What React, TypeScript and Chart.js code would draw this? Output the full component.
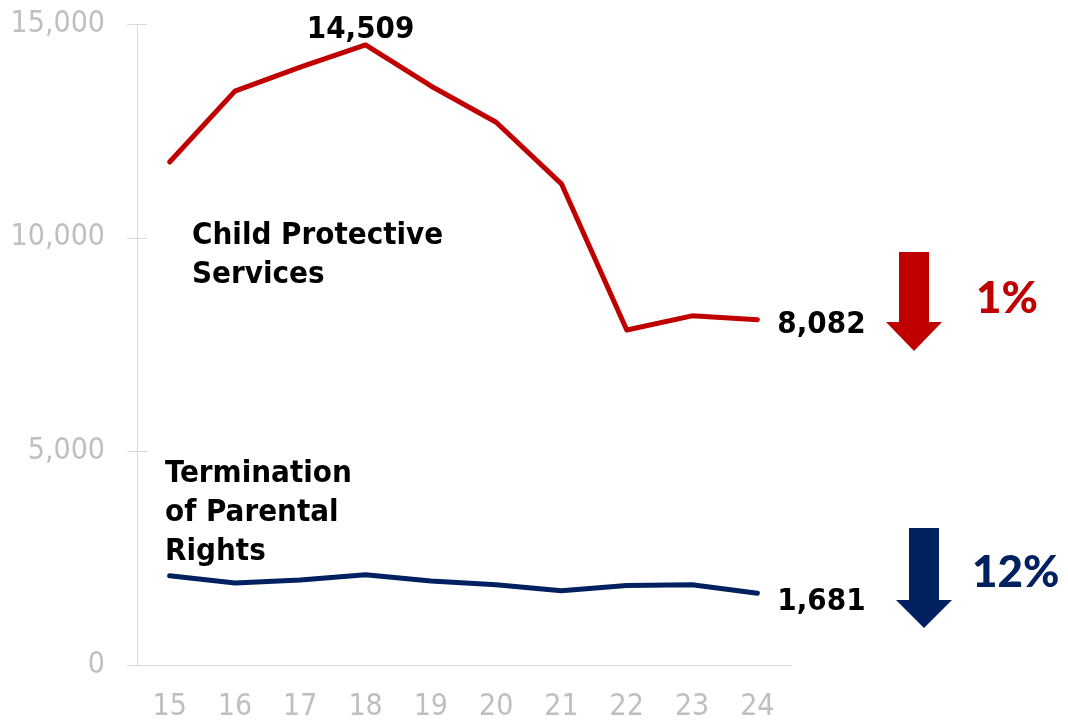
import React, { useEffect, useRef } from "react";
import { Chart, registerables } from "chart.js";

Chart.register(...registerables);

const years = ["15", "16", "17", "18", "19", "20", "21", "22", "23", "24"];
const cpsValues = [11770, 13430, 13990, 14509, 13550, 12700, 11260, 7840, 8170, 8082];
const tprValues = [2090, 1920, 1990, 2110, 1965, 1880, 1740, 1860, 1880, 1681];
const yTicks = [0, 5000, 10000, 15000];
const cpsLabel = ["Child Protective", "Services"];
const tprLabel = ["Termination", "of Parental", "Rights"];
const cpsChange = "1%";
const tprChange = "12%";

const RED = "#c00000";
const NAVY = "#002060";
const GRAY = "#bfbfbf";
const AXIS = "#d9d9d9";
const FONT = "'DejaVu Sans Condensed', 'DejaVu Sans', Verdana, sans-serif";
const PCT_FONT = "Lato, 'Open Sans', sans-serif";

const fmt = (v: number) => v.toLocaleString("en-US");

const annotations = {
  id: "annotations",
  afterDatasetsDraw(chart: any) {
    const { ctx, scales } = chart;
    const x = scales.x;
    const y = scales.y;
    ctx.save();
    // tick marks crossing the y axis
    ctx.strokeStyle = AXIS;
    ctx.lineWidth = 1;
    yTicks.forEach((t) => {
      const py = Math.round(y.getPixelForValue(t)) + 0.5;
      ctx.beginPath();
      ctx.moveTo(x.left - 10, py);
      ctx.lineTo(x.left + 10, py);
      ctx.stroke();
    });

    ctx.font = `bold 31px ${FONT}`;
    ctx.fillStyle = "#000";
    ctx.textBaseline = "alphabetic";
    // peak label
    const peakIdx = cpsValues.indexOf(Math.max(...cpsValues));
    ctx.textAlign = "center";
    ctx.fillText(fmt(cpsValues[peakIdx]), x.getPixelForValue(peakIdx) - 5, y.getPixelForValue(cpsValues[peakIdx]) - 7);
    // end labels
    const last = years.length - 1;
    ctx.textAlign = "left";
    ctx.fillText(fmt(cpsValues[last]), x.getPixelForValue(last) + 20, y.getPixelForValue(cpsValues[last]) + 13);
    ctx.fillText(fmt(tprValues[last]), x.getPixelForValue(last) + 20, y.getPixelForValue(tprValues[last]) + 17);
    // series labels
    cpsLabel.forEach((s, i) => ctx.fillText(s, 192, 244 + i * 39));
    tprLabel.forEach((s, i) => ctx.fillText(s, 165, 482 + i * 39));

    // arrows
    const arrow = (cx: number, top: number, headTop: number, tip: number, color: string) => {
      const sw = 15, hw = 28;
      ctx.fillStyle = color;
      ctx.beginPath();
      ctx.moveTo(cx - sw, top);
      ctx.lineTo(cx + sw, top);
      ctx.lineTo(cx + sw, headTop);
      ctx.lineTo(cx + hw, headTop);
      ctx.lineTo(cx, tip);
      ctx.lineTo(cx - hw, headTop);
      ctx.lineTo(cx - sw, headTop);
      ctx.closePath();
      ctx.fill();
    };
    arrow(914, 252, 322, 351, RED);
    arrow(924, 528, 600, 628, NAVY);

    ctx.font = `900 44px ${PCT_FONT}`;
    ctx.textAlign = "left";
    ctx.fillStyle = RED;
    ctx.fillText(cpsChange, 976, 313);
    ctx.fillStyle = NAVY;
    ctx.fillText(tprChange, 972, 587);
    ctx.restore();
  },
};

export default function App() {
  const ref = useRef<HTMLCanvasElement>(null);
  useEffect(() => {
    if (!ref.current) return;
    const chart = new Chart(ref.current, {
      type: "line",
      data: {
        labels: years,
        datasets: [
          { data: cpsValues, borderColor: RED, borderWidth: 5, pointRadius: 0, tension: 0, borderCapStyle: "round", borderJoinStyle: "round" },
          { data: tprValues, borderColor: NAVY, borderWidth: 5, pointRadius: 0, tension: 0, borderCapStyle: "round", borderJoinStyle: "round" },
        ],
      },
      options: {
        responsive: false,
        animation: false,
        layout: { padding: { top: 24, right: 278, left: 0, bottom: 0 } },
        plugins: { legend: { display: false }, tooltip: { enabled: false } },
        scales: {
          x: {
            offset: true,
            grid: { display: false, drawTicks: false },
            border: { display: true, color: AXIS, width: 1 },
            ticks: { color: GRAY, font: { family: FONT, size: 30 }, padding: 24, maxRotation: 0 },
            afterFit: (s: any) => { s.height = 59; s.paddingLeft = 0; s.paddingRight = 0; },
          },
          y: {
            min: 0,
            max: 15000,
            afterBuildTicks: (s: any) => { s.ticks = yTicks.map((v) => ({ value: v })); },
            grid: { display: false, drawTicks: false },
            border: { display: true, color: AXIS, width: 1 },
            ticks: { color: GRAY, font: { family: FONT, size: 30 }, padding: 32, callback: (v: any) => fmt(Number(v)) },
            afterFit: (s: any) => { s.width = 137; s.paddingTop = 0; s.paddingBottom = 0; },
          },
        },
      },
      plugins: [annotations],
    });
    return () => chart.destroy();
  }, []);
  return (
    <div style={{ position: "fixed", left: 0, top: 0, width: 1068, height: 724, background: "#fff" }}>
      <canvas ref={ref} width={1068} height={724} />
    </div>
  );
}
